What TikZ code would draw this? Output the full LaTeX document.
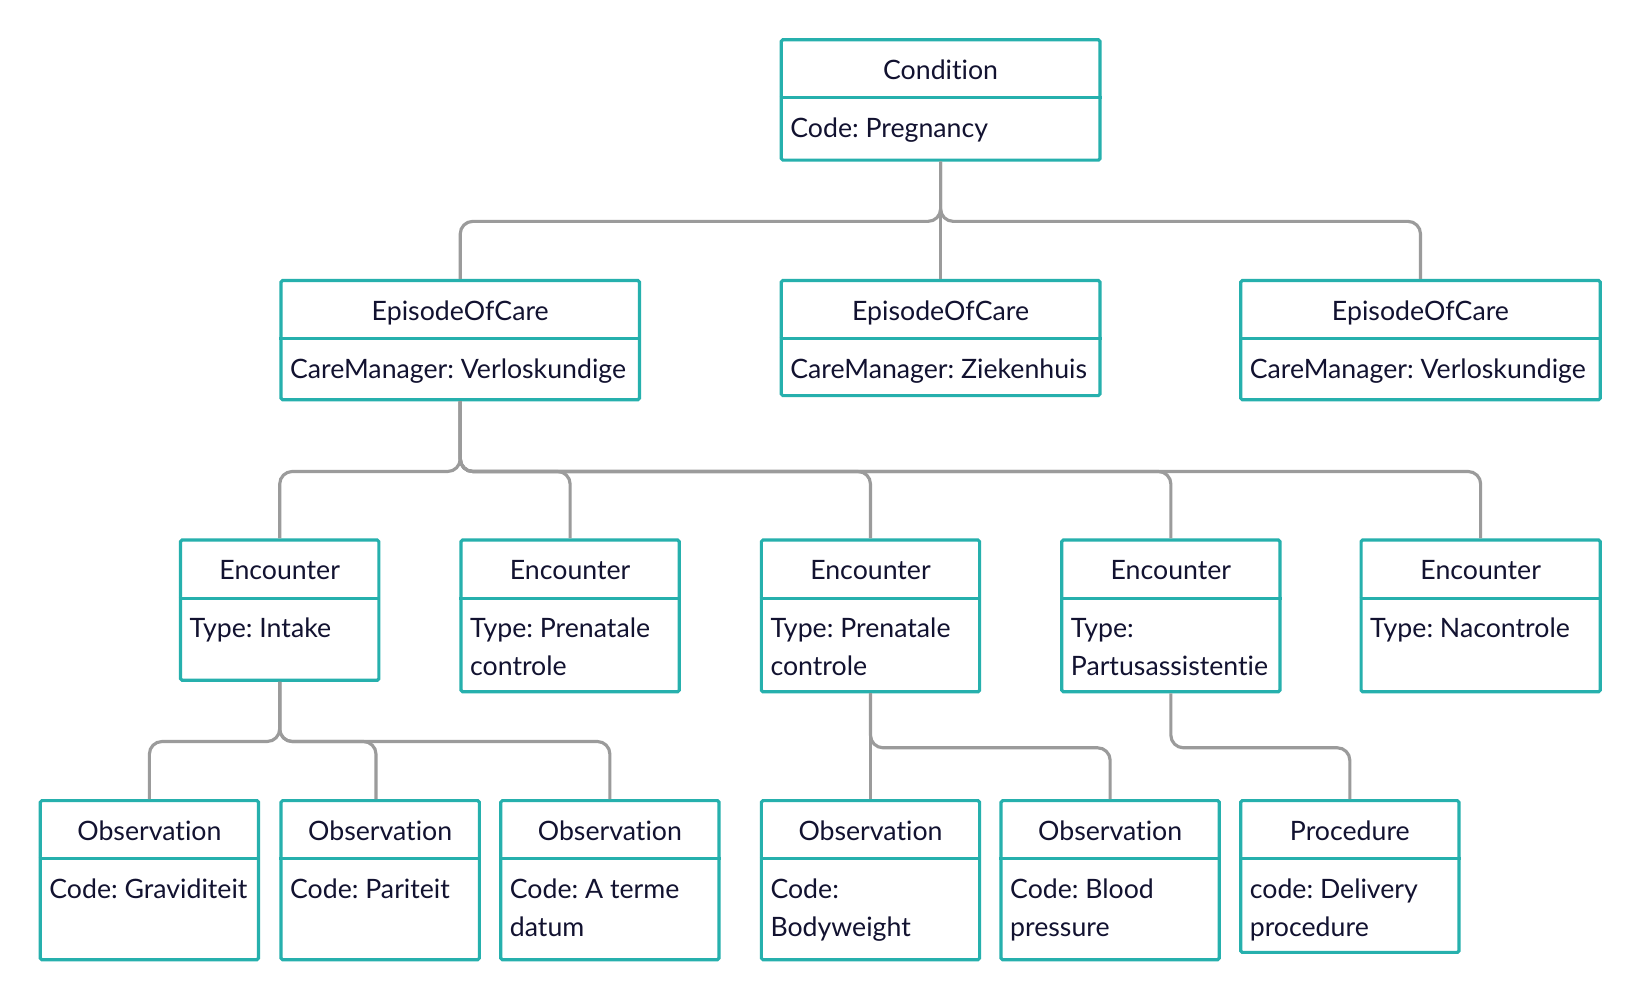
\documentclass[tikz,border=0pt]{standalone}
\usepackage{fontspec}
\setmainfont{Lato}[Ligatures={NoCommon}]
\frenchspacing
\usetikzlibrary{positioning}
\definecolor{umlteal}{RGB}{38,176,173}
\definecolor{umlgrey}{RGB}{155,155,155}
\definecolor{umltext}{RGB}{18,18,48}
\tikzset{
    %Define style for class boxes
    classbox/.style={
           rectangle,
           rounded corners=1.5pt,
           draw=umlteal, line width=3pt,
           inner sep=0pt,
           anchor=north west},
    classname/.style={
           anchor=base,
           inner sep=0pt,
           font=\fontsize{25.5}{36}\selectfont,
           text=umltext},
    classbody/.style={
           anchor=north west,
           inner sep=0pt,
           align=left,
           font=\fontsize{25.5}{36}\selectfont,
           text=umltext},
    % Define connector style
    link/.style={
           draw=umlgrey,
           line width=3pt,
           rounded corners=12pt},
    elbow/.style={
           to path={-- ++(0,#1) -| (\tikztotarget)}}
}
\begin{document}
\begin{tikzpicture}[x=1pt,y=-1pt]
\fill[white] (0,0) rectangle (1567,955.5);
\foreach \n/\x/\y/\w/\h/\t/\b in {
    cond/746/38/306/115/Condition/{Code: Pregnancy},
    ep1/268/268/344/114/EpisodeOfCare/{CareManager: Verloskundige},
    ep2/746/268/306/110/EpisodeOfCare/{CareManager: Ziekenhuis},
    ep3/1185/268/345/114/EpisodeOfCare/{CareManager: Verloskundige},
    enc1/172/516/191/134/Encounter/{Type: Intake},
    enc2/440/516/210/145/Encounter/{Type: Prenatale\\controle},
    enc3/727/516/210/145/Encounter/{Type: Prenatale\\controle},
    enc4/1014/516/210/145/Encounter/{Type:\\Partusassistentie},
    enc5/1300/516/230/145/Encounter/{Type: Nacontrole},
    obs1/38/765/210/152/Observation/{Code: Graviditeit},
    obs2/268/765/191/152/Observation/{Code: Pariteit},
    obs3/478/765/210/152/Observation/{Code: A terme\\datum},
    obs4/727/765/210/152/Observation/{Code:\\Bodyweight},
    obs5/956/765/210/152/Observation/{Code: Blood\\pressure},
    proc/1185/765/210/145/Procedure/{code: Delivery\\procedure}}
{
  \node[classbox, minimum width={(\w-1.5)*1pt}, minimum height={\h*1pt}] (\n) at (\x-1,\y-1.5) {};
  \node[classname] (\n-h) at ([yshift=-39.5pt]\n.north) {\t};
  \node[classbody] (\n-b) at ([xshift=10pt,yshift=-76pt]\n.north west) {\b};
  \draw[umlteal, line width=3pt] ([yshift=-57pt]\n.north west) -- ([yshift=-57pt]\n.north east);
}
\path[link]
    (cond.south) edge[elbow=57] (ep1.north) edge[elbow=57] (ep3.north) edge (ep2.north)
    (ep1.south) edge[elbow=67] (enc1.north) edge[elbow=67] (enc2.north)
        edge[elbow=67] (enc3.north) edge[elbow=67] (enc4.north) edge[elbow=67] (enc5.north)
    (enc1.south) edge[elbow=57] (obs1.north) edge[elbow=57] ([xshift=-4pt]obs2.north)
        edge[elbow=57] (obs3.north)
    (enc3.south) edge (obs4.north) edge[elbow=52] (obs5.north)
    (enc4.south) edge[elbow=52] (proc.north);
\end{tikzpicture}
\end{document}
